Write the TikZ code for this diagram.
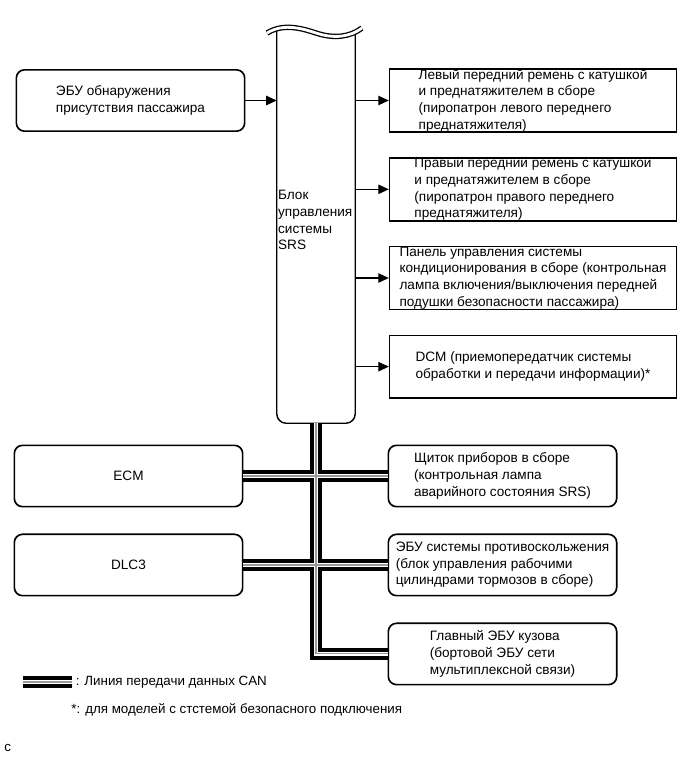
\documentclass[tikz,border=0pt]{standalone}
\usepackage{fontspec}
\setmainfont{Liberation Sans}
\usepackage{tikz}
\usetikzlibrary{arrows.meta,positioning}
\newcommand{\srsfont}{\fontsize{11.6}{14.2}\selectfont}
\newcommand{\notefont}{\fontsize{11.4}{14}\selectfont}

\begin{document}
\begin{tikzpicture}[x=0.03cm, y=-0.03cm,
      box/.style={draw, line width=1.4pt,
                  minimum width=8.6cm, minimum height=1.88cm,
                  font=\srsfont, align=left, inner sep=0pt},
      rbox/.style={draw, line width=1.4pt, rounded corners=7pt,
                  minimum width=6.85cm, minimum height=1.84cm,
                  font=\srsfont, align=left, inner sep=0pt},
      lbl/.style={font=\notefont, align=left, inner sep=1pt},
      arr/.style={-{Triangle[length=9pt,width=8pt]}, line width=1.1pt},
      can/.style={line width=2.8pt, white,
                  preaction={draw=black, line width=9.6pt},
                  postaction={draw=gray!80, line width=0.9pt}}
  ]
    \useasboundingbox (0,0) rectangle (691,757);
    % SRS block
    \node[minimum width=2.34cm, minimum height=11.76cm, inner sep=0pt] (srs) at (316,227) {};
    \draw[line width=1.2pt, rounded corners=8pt] (srs.north west) |- (srs.south) -| (srs.north east);
    \draw[line width=1.1pt, double, double distance=2.4pt]
      (267,33) .. controls (282,24) and (298,27) .. (316,33)
               .. controls (334,39) and (350,37) .. (362,28);
    \node[lbl, font=\srsfont, anchor=west] (srst) at ([yshift=0.2cm]srs.west) {Блок\\управления\\системы\\SRS};

    \node[rbox] (pas) at (130.5,100.5) {ЭБУ обнаружения\\присутствия пассажира};

    \node[box] (belt1) at (533,100.5) {Левый передний ремень с катушкой\\ и преднатяжителем в сборе\\ (пиропатрон левого переднего\\ преднатяжителя)};
    \node[box, below=0.73cm of belt1] (belt2) {Правый передний ремень с катушкой\\ и преднатяжителем в сборе\\ (пиропатрон правого переднего\\ преднатяжителя)};
    \node[box, below=0.73cm of belt2] (ac) {Панель управления системы\\ кондиционирования в сборе (контрольная\\ лампа включения/выключения передней\\ подушки безопасности пассажира)};
    \node[box, below=0.73cm of ac] (dcm) {DCM (приемопередатчик системы\\ обработки и передачи информации)*};

    \node[rbox] (meter) at (502.5,476) {Щиток приборов в сборе\\ (контрольная лампа\\ аварийного состояния SRS)};
    \node[rbox, below=0.78cm of meter] (abs) {ЭБУ системы противоскольжения\\ (блок управления рабочими\\ цилиндрами тормозов в сборе)};
    \node[rbox, below=0.78cm of abs] (body) {Главный ЭБУ кузова\\ (бортовой ЭБУ сети\\ мультиплексной связи)};

    \node[rbox] (ecm) at (128.5,476) {ECM};
    \node[rbox, below=0.78cm of ecm] (dlc) {DLC3};

    \draw[arr] (pas.east) -- (pas.east -| srs.west);
    \foreach \n in {belt1,belt2,ac,dcm}
      \draw[arr] (\n.west -| srs.east) -- (\n.west);

    % CAN
    \draw[can] (srs.south) |- (body.west) (ecm.east) -- (meter.west) (dlc.east) -- (abs.west);

    % legend
    \coordinate (leg) at (23,682);
    \draw[can] (leg) -- ++(49,0) coordinate (legend);
    \node[lbl, anchor=west] (legtxt) at ([xshift=2pt]legend) {: Линия передачи данных CAN};
    \node[lbl, anchor=west] (note) at (70,710) {*: для моделей с стстемой безопасного подключения};
    \node[lbl, anchor=west] (fig) at (3,748) {c};
  \end{tikzpicture}
\end{document}
